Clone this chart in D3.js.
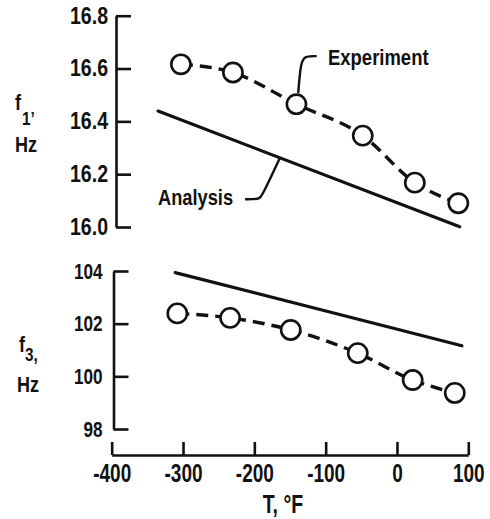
<!DOCTYPE html>
<html>
<head>
<meta charset="utf-8">
<script src="https://cdn.jsdelivr.net/npm/d3@7"></script>
<style>
  html, body { margin: 0; padding: 0; background: #fff; }
  svg { display: block; }
  text { font-family: "Liberation Sans", Arial, sans-serif; font-weight: bold; fill: #111; }
</style>
</head>
<body>
<svg id="chart" width="490" height="519"></svg>
<script>
// ---------- data ----------
const xTicks = [-400, -300, -200, -100, 0, 100];
const topTicks = [16.0, 16.2, 16.4, 16.6, 16.8];
const bottomTicks = [98, 100, 102, 104];

// f1 panel
const topExpTemp = [-303, -230, -141, -48, 25, 86];
const topExpFreq = [16.616, 16.585, 16.465, 16.346, 16.168, 16.090];
const topAnaTemp = [-335, 88];
const topAnaFreq = [16.439, 16.001];

// f3 panel
const botExpTemp = [-308, -234, -149, -55, 22, 81];
const botExpFreq = [102.39, 102.22, 101.76, 100.88, 99.86, 99.37];
const botAnaTemp = [-311, 91];
const botAnaFreq = [103.94, 101.16];

// annotation leader lines (data units of the f1 panel)
const expLeaderTemp = [-112.6, -129.5, -135, -138.5];
const expLeaderFreq = [16.647, 16.647, 16.622, 16.507];
const anaLeaderTemp = [-213, -193.5, -189.3, -164.1];
const anaLeaderFreq = [16.105, 16.105, 16.117, 16.262];

// ---------- layout ----------
const svg = d3.select("#chart");
const x = d3.scaleLinear().domain([-400, 100]).range([111.7, 468.3]);
const yTop = d3.scaleLinear().domain([16.0, 16.8]).range([227, 15.7]);
const yBot = d3.scaleLinear().domain([98, 104]).range([429, 271]);
const ink = "#111";

function styleAxis(g, k, fs) {
  g.selectAll("path.domain").attr("stroke", ink).attr("stroke-width", 2.6);
  g.selectAll(".tick line").attr("stroke", ink).attr("stroke-width", 2.6);
  g.selectAll(".tick text").attr("font-size", fs).attr("fill", ink)
    .style("font-family", '"Liberation Sans", Arial, sans-serif')
    .style("font-weight", "bold")
    .each(function () {
      const t = d3.select(this);
      const x0 = +(t.attr("x") || 0);
      t.attr("x", x0 / k).attr("transform", `scale(${k},1)`);
    });
}

// narrow text label
function label(px, py, size, str, k, anchor) {
  return svg.append("text")
    .attr("transform", `translate(${px},${py}) scale(${k},1)`)
    .attr("font-size", size)
    .attr("text-anchor", anchor || "start")
    .text(str);
}

// Y axes
const gTopAxis = svg.append("g").attr("transform", "translate(116,0)")
  .call(d3.axisLeft(yTop).tickValues(topTicks).tickFormat(d3.format(".1f"))
    .tickSizeInner(-15).tickSizeOuter(0).tickPadding(8));
styleAxis(gTopAxis, 0.85, 23);

const gBotAxis = svg.append("g").attr("transform", "translate(113.5,0)")
  .call(d3.axisLeft(yBot).tickValues(bottomTicks).tickFormat(d => String(d))
    .tickSizeInner(-15).tickSizeOuter(0).tickPadding(11));
styleAxis(gBotAxis, 0.78, 22);

// X axis
const gX = svg.append("g").attr("transform", "translate(0,455)")
  .call(d3.axisBottom(x).tickValues(xTicks).tickFormat(d => String(d))
    .tickSizeInner(-13).tickSizeOuter(0).tickPadding(9));
styleAxis(gX, 0.76, 25);

// ---------- series ----------
const lineGen = (ys) => d3.line().x(d => x(d[0])).y(d => ys(d[1]));

function drawPanel(ys, anaT, anaF, expT, expF) {
  const ana = anaT.map((t, i) => [t, anaF[i]]);
  svg.append("path").datum(ana)
    .attr("d", lineGen(ys))
    .attr("fill", "none").attr("stroke", ink).attr("stroke-width", 3.2)
    .attr("stroke-linecap", "round");

  const exp = expT.map((t, i) => [t, expF[i]]);
  svg.append("path").datum(exp)
    .attr("d", lineGen(ys).curve(d3.curveMonotoneX))
    .attr("fill", "none").attr("stroke", ink).attr("stroke-width", 3.4)
    .attr("stroke-dasharray", "12,7");

  svg.append("g").selectAll("circle").data(exp).join("circle")
    .attr("cx", d => x(d[0])).attr("cy", d => ys(d[1])).attr("r", 9.6)
    .attr("fill", "#fff").attr("stroke", ink).attr("stroke-width", 2.6);
}

drawPanel(yTop, topAnaTemp, topAnaFreq, topExpTemp, topExpFreq);
drawPanel(yBot, botAnaTemp, botAnaFreq, botExpTemp, botExpFreq);

// leaders
const expLeader = expLeaderTemp.map((t, i) => [t, expLeaderFreq[i]]);
svg.append("path").datum(expLeader)
  .attr("d", lineGen(yTop).curve(d3.curveBasis))
  .attr("fill", "none").attr("stroke", ink).attr("stroke-width", 2.4);
const anaLeader = anaLeaderTemp.map((t, i) => [t, anaLeaderFreq[i]]);
svg.append("path").datum(anaLeader)
  .attr("d", lineGen(yTop).curve(d3.curveBasis))
  .attr("fill", "none").attr("stroke", ink).attr("stroke-width", 2.4);

// ---------- labels ----------
label(328, 65, 22, "Experiment", 0.84);
label(158, 205, 22, "Analysis", 0.83);

// y titles
label(15, 110, 22, "f", 0.82);
label(22, 125, 18, "1’", 0.85);
label(15, 152, 22, "Hz", 0.82);

label(19, 352, 22, "f", 0.82);
label(25, 361, 18, "3,", 0.85);
label(17, 392, 22, "Hz", 0.82);

// x title
label(283, 513, 25, "T, °F", 0.78, "middle");
</script>
</body>
</html>
